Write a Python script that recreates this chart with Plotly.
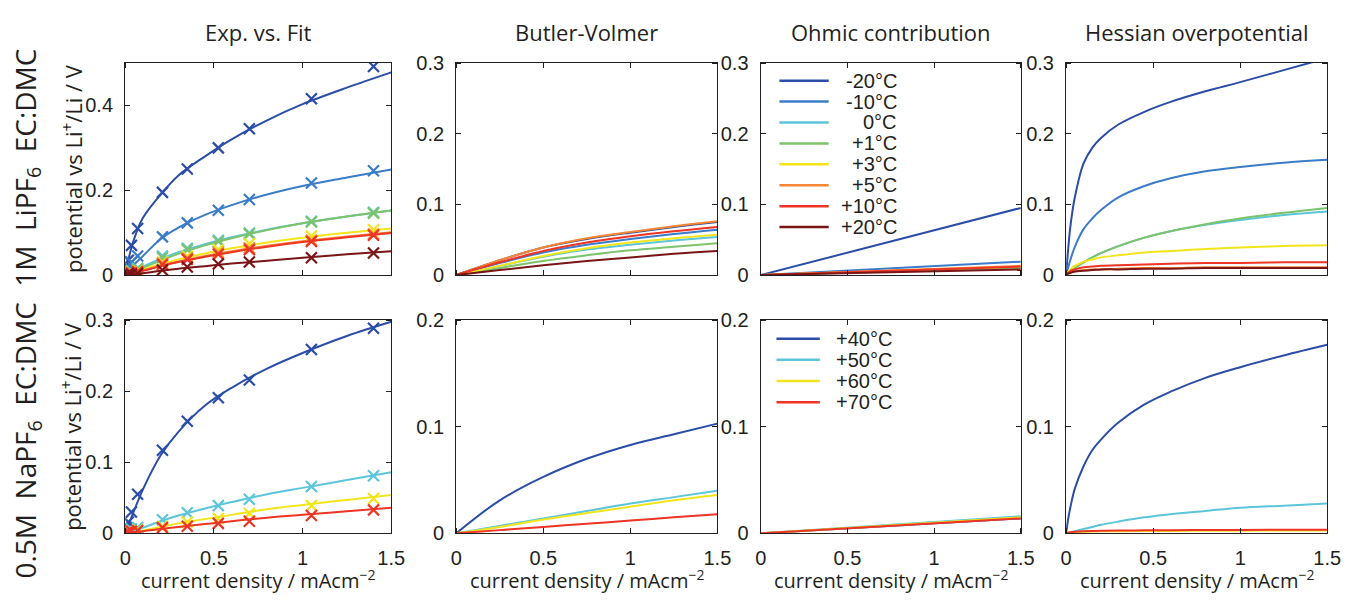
import plotly.graph_objects as go

# ---------------- data ----------------
x_exp = [0.007, 0.0175, 0.035, 0.07, 0.21, 0.35, 0.525, 0.70, 1.05, 1.40]
x_fit = [0, 0.02, 0.05, 0.1, 0.2, 0.3, 0.45, 0.6, 0.8, 1.0, 1.25, 1.5]
x_bv = [0, 0.25, 0.5, 0.75, 1.0, 1.25, 1.5]
x_ohm = [0, 1.5]
x_hes = [0, 0.01, 0.025, 0.05, 0.1, 0.15, 0.2, 0.3, 0.45, 0.6, 0.8, 1.0, 1.25, 1.5]

temps_li = ["-20°C", "-10°C", "0°C", "+1°C", "+3°C", "+5°C", "+10°C", "+20°C"]
colors_li = ["#2B4DA8", "#3B7CC8", "#5CC5DA", "#7CC36B", "#F2E51B", "#F58634", "#ED3425", "#7A1517"]

temps_na = ["+40°C", "+50°C", "+60°C", "+70°C"]
colors_na = ["#2B4DA8", "#5CC5DA", "#F2E51B", "#ED3425"]

# LiPF6 - experiment markers
exp_li = [
    [0.020, 0.035, 0.070, 0.110, 0.195, 0.250, 0.300, 0.345, 0.416, 0.492],
    [0.010, 0.018, 0.030, 0.045, 0.090, 0.123, 0.153, 0.178, 0.217, 0.246],
    [0.003, 0.006, 0.010, 0.016, 0.045, 0.063, 0.082, 0.099, 0.127, 0.148],
    [0.002, 0.005, 0.009, 0.014, 0.041, 0.060, 0.079, 0.097, 0.125, 0.146],
    [0.001, 0.003, 0.006, 0.010, 0.031, 0.044, 0.060, 0.074, 0.092, 0.107],
    [0.001, 0.003, 0.005, 0.009, 0.028, 0.040, 0.053, 0.064, 0.082, 0.097],
    [0.001, 0.002, 0.005, 0.008, 0.025, 0.037, 0.049, 0.060, 0.079, 0.094],
    [0.000, 0.001, 0.002, 0.004, 0.012, 0.019, 0.026, 0.031, 0.041, 0.052],
]
# LiPF6 - fitted curves
fit_li = [
    [0, 0.040, 0.085, 0.135, 0.190, 0.235, 0.280, 0.320, 0.365, 0.403, 0.442, 0.478],
    [0, 0.012, 0.025, 0.045, 0.085, 0.112, 0.142, 0.165, 0.190, 0.210, 0.230, 0.249],
    [0, 0.004, 0.010, 0.020, 0.038, 0.054, 0.073, 0.089, 0.107, 0.122, 0.138, 0.152],
    [0, 0.003, 0.008, 0.017, 0.034, 0.050, 0.070, 0.087, 0.106, 0.122, 0.138, 0.152],
    [0, 0.003, 0.007, 0.013, 0.026, 0.037, 0.051, 0.063, 0.077, 0.088, 0.100, 0.110],
    [0, 0.002, 0.006, 0.011, 0.022, 0.032, 0.045, 0.056, 0.069, 0.080, 0.091, 0.101],
    [0, 0.002, 0.005, 0.010, 0.021, 0.031, 0.043, 0.054, 0.067, 0.078, 0.089, 0.099],
    [0, 0.001, 0.002, 0.004, 0.010, 0.015, 0.021, 0.027, 0.034, 0.041, 0.049, 0.056],
]
bv_li = [
    [0, 0.021, 0.039, 0.051, 0.060, 0.068, 0.075],
    [0, 0.017, 0.032, 0.043, 0.051, 0.058, 0.064],
    [0, 0.013, 0.026, 0.036, 0.043, 0.049, 0.054],
    [0, 0.010, 0.020, 0.028, 0.035, 0.040, 0.045],
    [0, 0.013, 0.027, 0.038, 0.046, 0.052, 0.057],
    [0, 0.021, 0.039, 0.052, 0.061, 0.069, 0.076],
    [0, 0.018, 0.034, 0.046, 0.055, 0.062, 0.068],
    [0, 0.007, 0.014, 0.020, 0.025, 0.030, 0.034],
]
ohm_li = [
    [0, 0.095], [0, 0.019], [0, 0.011], [0, 0.010],
    [0, 0.012], [0, 0.013], [0, 0.012], [0, 0.008],
]
hes_li = [
    [0, 0.032, 0.070, 0.110, 0.158, 0.180, 0.194, 0.213, 0.231, 0.245, 0.260, 0.273, 0.290, 0.307],
    [0, 0.009, 0.022, 0.040, 0.065, 0.080, 0.092, 0.110, 0.126, 0.137, 0.147, 0.153, 0.159, 0.163],
    [0, 0.002, 0.005, 0.010, 0.018, 0.025, 0.031, 0.041, 0.053, 0.062, 0.071, 0.078, 0.085, 0.090],
    [0, 0.002, 0.005, 0.010, 0.018, 0.025, 0.031, 0.041, 0.053, 0.062, 0.072, 0.080, 0.088, 0.095],
    [0, 0.004, 0.008, 0.013, 0.019, 0.022, 0.025, 0.028, 0.032, 0.034, 0.037, 0.039, 0.041, 0.042],
    [0, 0.002, 0.004, 0.005, 0.007, 0.008, 0.008, 0.009, 0.010, 0.010, 0.011, 0.011, 0.011, 0.011],
    [0, 0.003, 0.006, 0.008, 0.011, 0.012, 0.013, 0.014, 0.015, 0.016, 0.017, 0.017, 0.018, 0.018],
    [0, 0.002, 0.003, 0.005, 0.006, 0.007, 0.008, 0.008, 0.009, 0.009, 0.010, 0.010, 0.010, 0.010],
]

# NaPF6
exp_na = [
    [0.008, 0.016, 0.030, 0.055, 0.117, 0.158, 0.191, 0.216, 0.259, 0.289],
    [0.002, 0.004, 0.006, 0.008, 0.019, 0.029, 0.039, 0.048, 0.066, 0.081],
    [0.001, 0.002, 0.003, 0.005, 0.010, 0.016, 0.021, 0.028, 0.039, 0.049],
    [0.001, 0.002, 0.003, 0.004, 0.008, 0.010, 0.014, 0.017, 0.025, 0.033],
]
fit_na = [
    [0, 0.013, 0.032, 0.062, 0.110, 0.143, 0.180, 0.205, 0.232, 0.254, 0.278, 0.298],
    [0, 0.002, 0.004, 0.008, 0.017, 0.025, 0.035, 0.044, 0.055, 0.064, 0.075, 0.086],
    [0, 0.001, 0.002, 0.004, 0.009, 0.014, 0.020, 0.026, 0.034, 0.040, 0.047, 0.054],
    [0, 0.001, 0.002, 0.003, 0.006, 0.009, 0.013, 0.017, 0.022, 0.026, 0.031, 0.036],
]
bv_na = [
    [0, 0.031, 0.053, 0.070, 0.083, 0.093, 0.103],
    [0, 0.007, 0.014, 0.021, 0.028, 0.034, 0.040],
    [0, 0.006, 0.013, 0.019, 0.025, 0.031, 0.036],
    [0, 0.003, 0.006, 0.009, 0.012, 0.015, 0.018],
]
ohm_na = [[0, 0.014], [0, 0.016], [0, 0.015], [0, 0.014]]
hes_na = [
    [0, 0.012, 0.025, 0.042, 0.063, 0.078, 0.088, 0.104, 0.121, 0.133, 0.146, 0.156, 0.167, 0.177],
    [0, 0.0003, 0.001, 0.002, 0.004, 0.006, 0.008, 0.011, 0.015, 0.018, 0.021, 0.024, 0.026, 0.028],
    [0, 0.0005, 0.001, 0.001, 0.0015, 0.0018, 0.002, 0.002, 0.0022, 0.0023, 0.0024, 0.0025, 0.0026, 0.0027],
    [0, 0.0005, 0.001, 0.0015, 0.002, 0.0022, 0.0024, 0.0026, 0.0028, 0.003, 0.0031, 0.0032, 0.0033, 0.0034],
]

col_titles = ["Exp. vs. Fit", "Butler-Volmer", "Ohmic contribution", "Hessian overpotential"]
x_ticks = [0, 0.5, 1, 1.5]
x_ticktext = ["0", "0.5", "1", "1.5"]

# ---------------- layout geometry ----------------
W, H = 1357, 606
col_px = [(121, 391), (457, 722), (766, 1030), (1076, 1341)]
row_px = [(54, 274), (321, 542)]
row_label_center = [163, 445]
y_ranges = [[0.5, 0.3, 0.3, 0.3], [0.3, 0.2, 0.2, 0.2]]
y_tickvals = {
    0.5: ([0, 0.2, 0.4], ["0", "0.2", "0.4"]),
    0.3: ([0, 0.1, 0.2, 0.3], ["0", "0.1", "0.2", "0.3"]),
    0.2: ([0, 0.1, 0.2], ["0", "0.1", "0.2"]),
}

INK = "#231F20"
NUMFONT = "Liberation Sans, Arial, sans-serif"
TICKFONT = dict(family=NUMFONT, size=20, color=INK)
LABELFONT = "Open Sans, Noto Sans, sans-serif"

fig = go.Figure()


def axis_names(r, c):
    i = r * 4 + c + 1
    return ("x" if i == 1 else f"x{i}"), ("y" if i == 1 else f"y{i}"), i


def add_lines(r, c, xs, ys_list, colors, names, shape="spline"):
    xa, ya, _ = axis_names(r, c)
    for ys, col, nm in zip(ys_list, colors, names):
        fig.add_trace(go.Scatter(
            x=xs, y=ys, mode="lines", name=nm,
            line=dict(color=col, width=2, shape=shape, smoothing=1.0),
            xaxis=xa, yaxis=ya, showlegend=False,
        ))


def add_markers(r, c, xs, ys_list, colors, names):
    xa, ya, _ = axis_names(r, c)
    for ys, col, nm in zip(ys_list, colors, names):
        fig.add_trace(go.Scatter(
            x=xs, y=ys, mode="markers", name=nm,
            marker=dict(symbol="x-thin", size=11, color=col, line=dict(color=col, width=2.2)),
            xaxis=xa, yaxis=ya, showlegend=False,
        ))


# Row 1 (LiPF6)
for ys_f, ys_e, col, nm in zip(fit_li, exp_li, colors_li, temps_li):
    add_lines(0, 0, x_fit, [ys_f], [col], [nm])
    add_markers(0, 0, x_exp, [ys_e], [col], [nm])
add_lines(0, 1, x_bv, bv_li, colors_li, temps_li)
add_lines(0, 2, x_ohm, ohm_li, colors_li, temps_li, shape="linear")
add_lines(0, 3, x_hes, hes_li, colors_li, temps_li)

# Row 2 (NaPF6)
for ys_f, ys_e, col, nm in zip(fit_na, exp_na, colors_na, temps_na):
    add_lines(1, 0, x_fit, [ys_f], [col], [nm])
    add_markers(1, 0, x_exp, [ys_e], [col], [nm])
add_lines(1, 1, x_bv, bv_na, colors_na, temps_na)
add_lines(1, 2, x_ohm, ohm_na, colors_na, temps_na, shape="linear")
add_lines(1, 3, x_hes, hes_na, colors_na, temps_na)

layout = dict(
    width=W, height=H,
    margin=dict(l=0, r=0, t=0, b=0),
    plot_bgcolor="white", paper_bgcolor="white",
    showlegend=False,
)

for r in range(2):
    for c in range(4):
        xa, ya, i = axis_names(r, c)
        xd = [col_px[c][0] / W, col_px[c][1] / W]
        yd = [1 - row_px[r][1] / H, 1 - row_px[r][0] / H]
        ymax = y_ranges[r][c]
        tv, tt = y_tickvals[ymax]
        # major ticks are invisible "outside" spacers that push the labels away from the frame;
        # the visible inside tick marks are drawn as minor ticks at the same values
        common = dict(showgrid=False, zeroline=False, showline=True, linecolor=INK, linewidth=1.3,
                      mirror="ticks", ticks="outside", ticklen=7, tickcolor="rgba(0,0,0,0)",
                      tickfont=TICKFONT)
        layout["xaxis" + ("" if i == 1 else str(i))] = dict(
            domain=xd, anchor=ya, range=[0, 1.5], tickvals=x_ticks, ticktext=x_ticktext,
            minor=dict(tickvals=x_ticks, ticks="inside", ticklen=5, tickcolor=INK, tickwidth=1, showgrid=False),
            showticklabels=(r == 1), **common)
        layout["yaxis" + ("" if i == 1 else str(i))] = dict(
            domain=yd, anchor=xa, range=[0, ymax], tickvals=tv, ticktext=tt,
            minor=dict(tickvals=tv, ticks="inside", ticklen=5, tickcolor=INK, tickwidth=1, showgrid=False),
            **common)

fig.update_layout(**layout)

ann = []
shapes = []
for c, t in enumerate(col_titles):
    ann.append(dict(text=t, x=(col_px[c][0] + col_px[c][1]) / 2 / W, y=1 - 22 / H, xref="paper", yref="paper",
                    showarrow=False, xanchor="center", yanchor="middle",
                    font=dict(family=LABELFONT, size=22, color=INK)))
    ann.append(dict(text="current density / mAcm<sup>−2</sup>", x=(col_px[c][0] + col_px[c][1]) / 2 / W,
                    y=1 - 590 / H, xref="paper", yref="paper", showarrow=False,
                    xanchor="center", yanchor="middle",
                    font=dict(family=LABELFONT, size=20, color=INK)))

row_labels = ["1M  LiPF<sub>6</sub>  EC:DMC", "0.5M  NaPF<sub>6</sub>  EC:DMC"]
for r, t in enumerate(row_labels):
    yc = 1 - (row_px[r][0] + row_px[r][1]) / 2 / H
    ann.append(dict(text=t, x=21 / W, y=1 - row_label_center[r] / H, xref="paper", yref="paper",
                    showarrow=False, textangle=-90, xanchor="center", yanchor="middle",
                    font=dict(family=LABELFONT, size=28, color=INK)))
    ann.append(dict(text="potential vs Li<sup>+</sup>/Li / V", x=67 / W, y=yc, xref="paper", yref="paper",
                    showarrow=False, textangle=-90, xanchor="center", yanchor="middle",
                    font=dict(family=LABELFONT, size=22, color=INK)))

# legends (inside the Ohmic-contribution panels), drawn as swatch + right-aligned label
legend_specs = [
    (temps_li, colors_li, 72.3, 21.7, 785, 835, 906),
    (temps_na, colors_na, 340.0, 22.0, 782, 826, 901),
]
for names, cols, y0, dy, lx0, lx1, tx in legend_specs:
    for k, (nm, col) in enumerate(zip(names, cols)):
        yy = 1 - (y0 + k * dy) / H
        shapes.append(dict(type="line", xref="paper", yref="paper", x0=lx0 / W, x1=lx1 / W,
                           y0=yy, y1=yy, line=dict(color=col, width=2.5)))
        ann.append(dict(text=nm, x=tx / W, y=yy, xref="paper", yref="paper", showarrow=False,
                        xanchor="right", yanchor="middle",
                        font=dict(family=NUMFONT, size=20, color=INK)))

fig.update_layout(annotations=ann, shapes=shapes)

fig.write_html("out.html")
